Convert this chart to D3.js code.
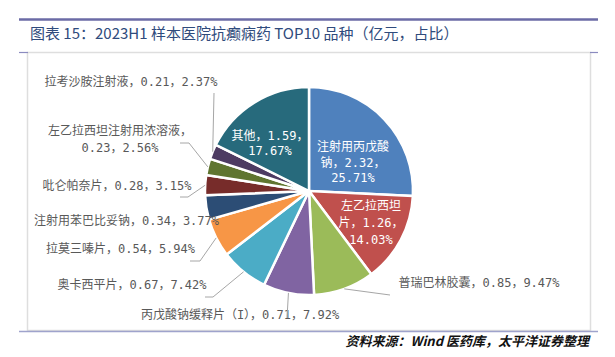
<!DOCTYPE html>
<html><head><meta charset="utf-8">
<script src="https://cdn.jsdelivr.net/npm/d3@7"></script>
<style>html,body{margin:0;padding:0;background:#fff;}svg{display:block;}</style>
</head><body>
<svg id="c" width="615" height="357"></svg>
<script>
const categories = ["注射用丙戊酸钠","左乙拉西坦片","普瑞巴林胶囊","丙戊酸钠缓释片（I）","奥卡西平片","拉莫三嗪片","注射用苯巴比妥钠","吡仑帕奈片","左乙拉西坦注射用浓溶液","拉考沙胺注射液","其他"];
const values = [2.32,1.26,0.85,0.71,0.67,0.54,0.34,0.28,0.23,0.21,1.59];
const shares = ["25.71%","14.03%","9.47%","7.92%","7.42%","5.94%","3.77%","3.15%","2.56%","2.37%","17.67%"];
const colors = ["#4f81bd","#c0504d","#9bbb59","#8064a2","#4bacc6","#f79646","#2c4d75","#772c2a","#5f7530","#4d3b62","#276a7c"];

// label layout (annotation placement)
const labelLayout = [
  {inside:true, x:353, y:[147,163,178], lines:(c,v,s)=>["注射用丙戊酸","钠，"+v+"，",s]},
  {inside:true, x:371, y:[206,223,240], lines:(c,v,s)=>["左乙拉西坦","片，"+v+"，",s]},
  {x:479, y:[283], leader:[[390,295]]},
  {x:240, y:[315], leader:[[287,318]]},
  {x:132, y:[285], leader:[[213,297],[205,297]]},
  {x:120.5, y:[249], leader:[[200,261],[190,261]]},
  {x:126.5, y:[221], leader:null},
  {x:117, y:[186], leader:[[188,197],[180,197]]},
  {x:120, y:[131,148], lines:(c,v,s)=>[c+"，",v+"，"+s], leader:[[189,143],[180,143]]},
  {x:131, y:[82], leader:[[214,93]]},
  {inside:true, x:270, y:[136,151], lines:(c,v,s)=>["其他，"+v+"，",s]}
];

const svg = d3.select("#c");
const cx=309, cy=191, R=104;

// title
svg.append("line").attr("x1",19).attr("x2",598).attr("y1",19.5).attr("y2",19.5)
  .attr("stroke","#6b6ba6").attr("stroke-width",2.5);
svg.append("text").attr("x",30).attr("y",38.5)
  .attr("font-family","'Noto Sans CJK SC','Noto Sans',sans-serif").attr("font-size",15)
  .attr("fill","#2f4b7c").text("图表 15：2023H1 样本医院抗癫痫药 TOP10 品种（亿元，占比）");

// frame
svg.append("rect").attr("x",27.5).attr("y",52.5).attr("width",563).attr("height",278)
  .attr("fill","none").attr("stroke","#dedede").attr("stroke-width",1.5);
svg.append("line").attr("x1",19).attr("x2",28).attr("y1",52.5).attr("y2",52.5).attr("stroke","#8b8bbf").attr("stroke-width",1.2);
svg.append("line").attr("x1",590).attr("x2",598).attr("y1",52.5).attr("y2",52.5).attr("stroke","#8b8bbf").attr("stroke-width",1.2);
svg.append("line").attr("x1",19).attr("x2",598).attr("y1",331.5).attr("y2",331.5).attr("stroke","#9fa3cc").attr("stroke-width",1.5);

// source
svg.append("text").attr("x",589).attr("y",346).attr("text-anchor","end")
  .attr("font-family","'Noto Sans CJK SC',sans-serif").attr("font-size",13)
  .attr("font-style","italic").attr("font-weight","bold").attr("fill","#111")
  .text("资料来源：Wind 医药库，太平洋证券整理");

const pie = d3.pie().sort(null).value(d=>d)(values);
const arc = d3.arc().innerRadius(0).outerRadius(R);
const labelFont = "'DejaVu Sans Mono','Noto Sans CJK SC',monospace";

const pg = svg.append("g").attr("transform",`translate(${cx},${cy})`);
pg.selectAll("path").data(pie).join("path")
  .attr("d",arc).attr("fill",(d,i)=>colors[i])
  .attr("stroke","#fff").attr("stroke-width",2.5).attr("stroke-linejoin","round");

const g = svg.append("g");
pie.forEach((p,i)=>{
  const L = labelLayout[i];
  const v = values[i].toFixed(2), s = shares[i], c = categories[i];
  const lines = L.lines ? L.lines(c,v,s) : [c+"，"+v+"，"+s];
  lines.forEach((t,k)=>{
    g.append("text").attr("x",L.x).attr("y",L.y[k]).attr("dy","0.36em")
      .attr("text-anchor","middle").attr("font-family",labelFont).attr("font-size",12)
      .attr("fill",L.inside?"#ffffff":"#595959").text(t);
  });
  if (L.leader){
    const a=(p.startAngle+p.endAngle)/2;
    const pts=[[cx+R*Math.sin(a), cy-R*Math.cos(a)]].concat(L.leader);
    g.append("path").attr("d",d3.line()(pts)).attr("fill","none")
      .attr("stroke","#a6a6a6").attr("stroke-width",1);
  }
});
</script>
</body></html>
